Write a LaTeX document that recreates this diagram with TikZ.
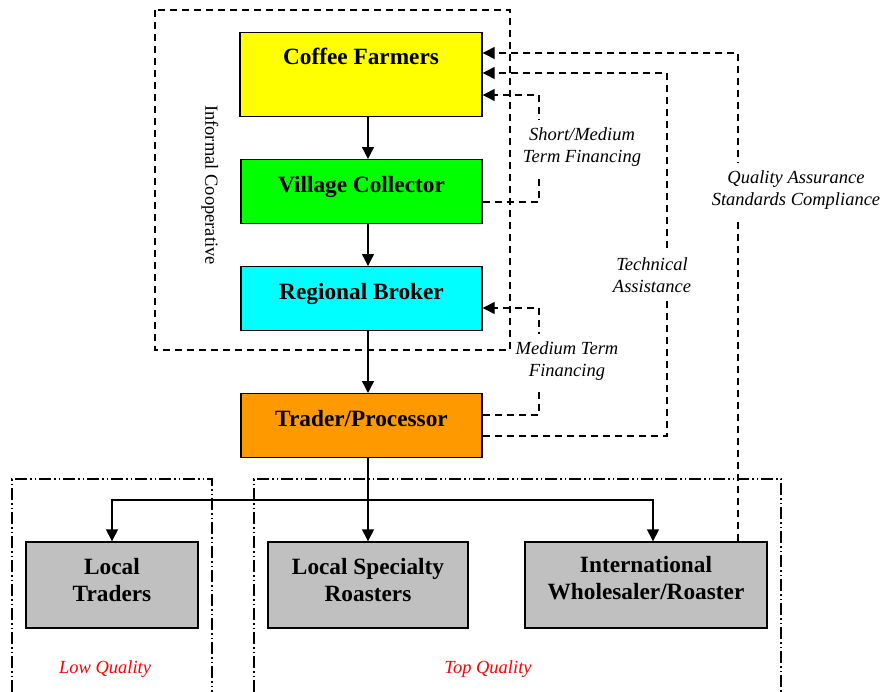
\documentclass[tikz,border=0pt]{standalone}
\usepackage{fontspec}
\setmainfont{Liberation Serif}
\usetikzlibrary{arrows.meta}
\definecolor{cfYellow}{RGB}{255,255,0}
\definecolor{cfGreen}{RGB}{0,255,0}
\definecolor{cfCyan}{RGB}{0,255,255}
\definecolor{cfOrange}{RGB}{255,153,0}
\definecolor{cfGray}{RGB}{192,192,192}
\newcommand\dropdepth[1]{\rule[-#1]{0pt}{0pt}}
\begin{document}
\begin{tikzpicture}[x=1pt,y=-1pt,
  box/.style={draw=black, line width=1.4pt, inner xsep=0pt, inner ysep=0pt,
    minimum width=241pt, text height=32.5pt, text depth=31pt,
    font=\fontsize{23.3}{27}\selectfont\bfseries},
  lowbox/.style={draw=black, line width=1.4pt, fill=cfGray, inner sep=0pt, align=center,
    minimum height=86pt, font=\fontsize{23.3}{27}\selectfont\bfseries},
  flow/.style={line width=1.4pt, -{Triangle[length=12pt,width=12pt]}},
  plain/.style={line width=1.4pt},
  feed/.style={line width=1.3pt, dash pattern=on 7pt off 5pt, -{Triangle[length=12pt,width=12pt]}},
  coopline/.style={line width=1.3pt, dash pattern=on 7pt off 5pt},
  note/.style={fill=white, inner xsep=2pt, inner ysep=8pt, align=center,
    font=\fontsize{18.5}{22}\selectfont\itshape},
  quality/.style={text=red, font=\fontsize{18.5}{22}\selectfont\itshape},
  region/.style={line width=1.3pt, dash pattern=on 12pt off 3pt on 1.5pt off 3pt on 1.5pt off 3pt},
]
\useasboundingbox (0,0) rectangle (882,691);

% informal cooperative frame
\draw[coopline] (155,10) rectangle (510,350);
\node[rotate=-90, font=\fontsize{18.5}{22}\selectfont] (coop) at (210,185) {Informal Cooperative};

% market regions
\draw[region] (12,692) -- (12,479) -- (212,479) -- (212,692);
\draw[region] (254,692) -- (254,479) -- (781,479) -- (781,692);

% chain boxes
\node[box, fill=cfYellow, anchor=north, minimum width=242pt, text height=31.5pt, text depth=52.5pt] (farmers) at (361,32) {Coffee Farmers};
\node[box, fill=cfGreen, anchor=north] (village) at (361.5,159) {Village Collector};
\node[box, fill=cfCyan, anchor=north] (broker) at (361.5,266) {Regional Broker};
\node[box, fill=cfOrange, anchor=north] (trader) at (361.5,393) {Trader/Processor};

\node[lowbox, minimum width=172pt] (local) at (112,585) {Local\\Traders\dropdepth{11pt}};
\node[lowbox, minimum width=200pt] (specialty) at (368,585) {Local Specialty\\Roasters\dropdepth{11pt}};
\node[lowbox, minimum width=242pt] (intl) at (646,585) {International\\Wholesaler/Roaster\dropdepth{15pt}};

% main flow
\coordinate (ax) at (368,0);
\draw[flow] (farmers.south -| ax) -- (village.north -| ax);
\draw[flow] (village.south -| ax) -- (broker.north -| ax);
\draw[flow] (broker.south -| ax) -- (trader.north -| ax);
\coordinate (split) at (368,500);
\draw[plain] (trader.south -| ax) -- (split);
\draw[flow] (split) -- (specialty.north);
\draw[flow] (split) -| (local.north);
\coordinate (ix) at (653,0);
\draw[flow] (split) -| (intl.north -| ix);

% feedback
\coordinate (qa) at (738,53);
\draw[feed] (intl.north -| qa) -- (qa) -- (farmers.east |- qa);
\coordinate (ta) at (667,73);
\coordinate (taLow) at (667,436);
\draw[feed] (trader.east |- taLow) -- (taLow) -- (ta) -- (farmers.east |- ta);
\coordinate (sm) at (539,95);
\coordinate (smLow) at (539,202);
\draw[feed] (village.east |- smLow) -- (smLow) -- (sm) -- (farmers.east |- sm);
\coordinate (mt) at (539,308);
\coordinate (mtLow) at (539,415);
\draw[feed] (trader.east |- mtLow) -- (mtLow) -- (mt) -- (broker.east |- mt);

% labels
\node[note] (qaLabel) at (796,190) {Quality Assurance\\Standards Compliance};
\node[note] (taLabel) at (652,275) {Technical\\Assistance};
\node[note] (smLabel) at (582,147) {Short/Medium\\Term Financing};
\node[note] (mtLabel) at (567,361) {Medium Term\\Financing};

\node[quality] (low) at (105,669) {Low Quality};
\node[quality] (top) at (488,669) {Top Quality};
\end{tikzpicture}
\end{document}
